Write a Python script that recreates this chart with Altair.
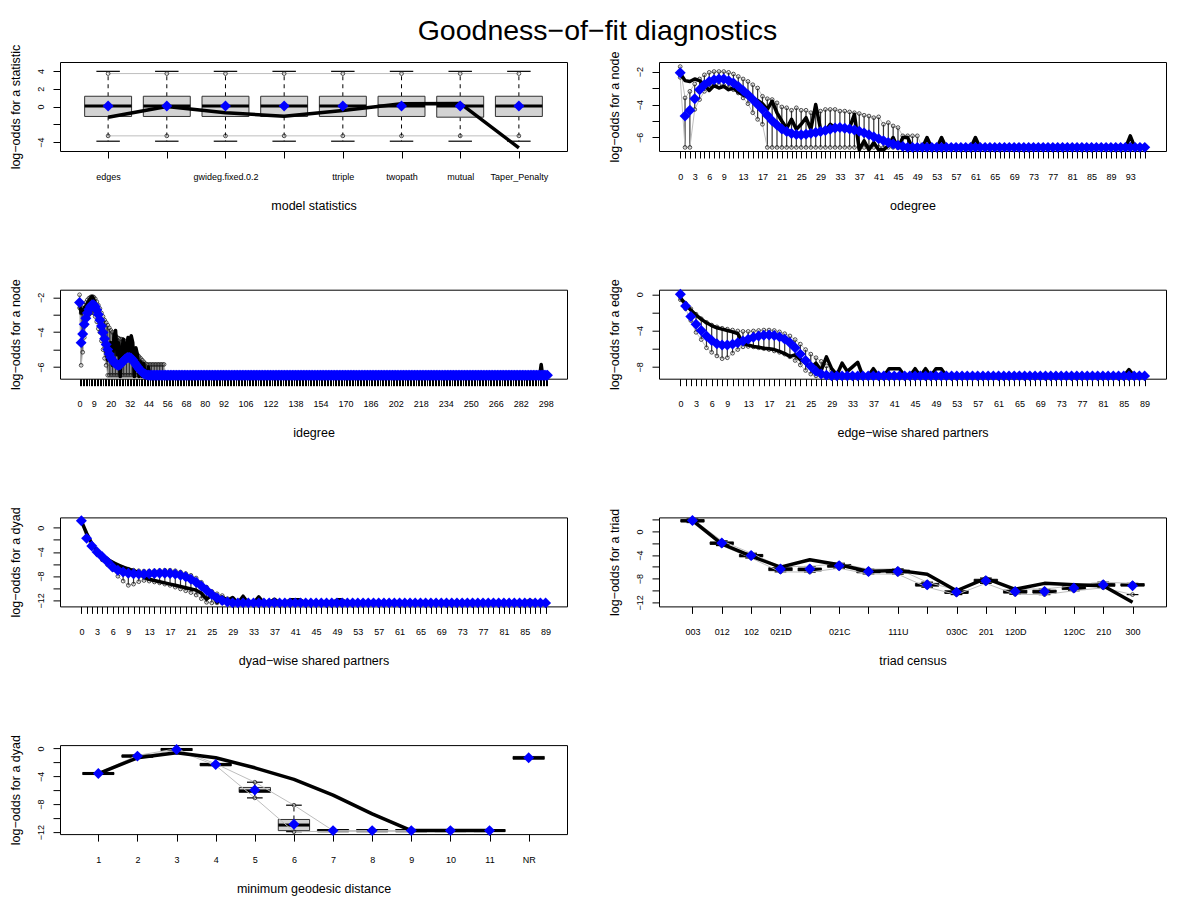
import json
import altair as alt
import pandas as pd

FONT = "Liberation Sans"
TITLE = "Goodness\u2212of\u2212fit diagnostics"

# ---------------- Panel 1: model statistics ----------------
P1_LABELS = ["edges", "", "gwideg.fixed.0.2", "", "ttriple", "twopath", "mutual", "Taper_Penalty"]
P1_Q1 = [-1.12, -1.12, -1.12, -1.12, -1.12, -1.12, -1.2, -1.12]
P1_Q3 = [1.15, 1.15, 1.15, 1.15, 1.15, 1.15, 1.15, 1.15]
P1_MED = [0.05, 0.05, 0.05, 0.05, 0.05, 0.05, 0.05, 0.05]
P1_WLO = [-3.9, -3.9, -3.9, -3.9, -3.9, -3.9, -3.9, -3.9]
P1_WHI = [3.95, 3.95, 3.95, 3.95, 3.95, 3.95, 3.95, 3.95]
P1_LO = [-3.3, -3.3, -3.3, -3.3, -3.3, -3.3, -3.3, -3.3]
P1_HI = [3.7, 3.7, 3.7, 3.7, 3.7, 3.7, 3.7, 3.7]
P1_OBS = [-1.2, 0.0, -0.7, -1.1, -0.45, 0.3, 0.35, -4.65]
P1_BLUE = [0.05, 0.05, 0.05, 0.05, 0.05, 0.05, 0.05, 0.05]

# ---------------- Panel 2: odegree (0..96) ----------------
ODEG_N = 97
ODEG_LABELS = [0, 3, 6, 9, 13, 17, 21, 25, 29, 33, 37, 41, 45, 49, 53, 57, 61, 65, 69, 73, 77, 81, 85, 89, 93]
ODEG_FLOOR = -6.6
ODEG_BLUE = [-2.07, -4.7, -4.35, -3.65, -3.1, -2.8, -2.6, -2.5, -2.45, -2.45,
             -2.55, -2.7, -2.9, -3.15, -3.4, -3.7, -4.0, -4.3, -4.65, -4.98,
             -5.25, -5.48, -5.64, -5.76, -5.82, -5.84, -5.8, -5.75, -5.7, -5.64,
             -5.57, -5.5, -5.43, -5.4, -5.44, -5.48, -5.54, -5.62, -5.72, -5.83,
             -5.95, -6.07, -6.19, -6.3, -6.4, -6.48, -6.55]
ODEG_OBS_HEAD = [-2.1, -2.55, -2.6, -2.45, -2.55, -2.8, -3.15, -2.85, -3.0, -2.9,
                 -3.1, -3.0, -3.25, -3.4, -3.55, -3.7, -3.75, -3.95, -4.3, -3.8,
                 -4.5, -5.0, -5.45, -4.9, -5.5, -5.2, -4.8, -5.5, -4.0, -5.5,
                 -5.6, -5.2, -5.4, -5.3, -5.6, -5.4, -4.6, -6.75, -6.2, -6.75,
                 -6.3, -6.75, -6.75, -6.5, -6.0, -6.65, -6.0, -6.0, -6.65, -6.65,
                 -6.65, -6.0, -6.65, -6.65, -6.0, -6.65, -6.65, -6.65, -6.65, -6.65,
                 -6.65, -6.0]
ODEG_OBS_SPIKE = {93: -5.9}
ODEG_OBS_FLOOR = -6.65
ODEG_HI = [-1.7, -3.6, -3.2, -2.75, -2.45, -2.2, -2.05, -2.0, -2.0, -2.0,
           -2.05, -2.15, -2.3, -2.45, -2.6, -2.8, -3.0, -3.5, -3.65, -3.7,
           -3.9, -4.15, -4.2, -4.35, -4.2, -4.35, -4.35, -4.5, -4.45, -4.4,
           -4.3, -4.3, -4.3, -4.4, -4.4, -4.45, -4.5, -4.55, -4.65, -4.7,
           -4.8, -4.75, -5.2, -5.1, -5.3, -5.4, -5.9, -5.9, -5.9, -5.9]
ODEG_LO = [-2.35, -6.6, -6.6, -4.3, -3.7, -3.2, -2.95, -2.85, -2.8, -2.85,
           -2.95, -3.1, -3.3, -3.6, -3.95, -4.5, -4.9, -5.2]

# ---------------- Panel 3: idegree (0..299) ----------------
IDEG_N = 300
IDEG_LABELS = [0, 9, 20, 32, 44, 56, 68, 80, 92, 106, 122, 138, 154, 170, 186, 202, 218, 234, 250, 266, 282, 298]
IDEG_FLOOR = -6.47
IDEG_BLUE = [-2.3, -4.6, -4.1, -3.55, -3.2, -2.9, -2.68, -2.52, -2.42, -2.42,
             -2.52, -2.72, -2.98, -3.3, -3.65, -4.02, -4.38, -4.7, -5.0, -5.25,
             -5.45, -5.6, -5.72, -5.82, -5.88, -5.9, -5.85, -5.75, -5.65, -5.55,
             -5.48, -5.45, -5.45, -5.5, -5.6, -5.72, -5.85, -5.98, -6.1, -6.2,
             -6.3, -6.37, -6.42, -6.45]
IDEG_OBS_HEAD = [-2.4, -2.9, -2.75, -2.6, -2.5, -2.35, -2.2, -2.05, -1.95, -2.1,
                 -2.3, -2.6, -2.8, -3.1, -3.5, -3.9, -4.4, -5.0, -5.6, -4.9,
                 -4.6, -5.9, -4.3, -3.9, -5.3, -4.6, -6.55, -5.0, -4.4, -5.6,
                 -4.8, -4.3, -5.2, -4.2, -4.6, -6.55, -4.9, -5.3, -6.55, -5.7,
                 -6.55, -5.8, -6.55, -6.55, -6.0, -6.55]
IDEG_OBS_SPIKE = {295: -5.85}
IDEG_OBS_FLOOR = -6.55
IDEG_HI = [-1.85, -2.9, -2.65, -2.45, -2.3, -2.15, -2.05, -1.98, -1.95, -1.98,
           -2.08, -2.25, -2.45, -2.65, -2.9, -3.1, -3.3, -3.45, -3.6, -3.75,
           -3.9, -4.0, -4.1, -4.2, -4.3, -4.35, -4.4, -4.4, -4.45, -4.5,
           -4.6, -4.7, -4.8, -4.9, -5.0, -5.1, -5.2, -5.3, -5.4, -5.5,
           -5.6, -5.7, -5.8, -5.85, -5.85, -5.85, -5.85, -5.85, -5.85, -5.85,
           -5.85, -5.85, -5.85, -5.85, -5.85]
IDEG_LO = [-2.6, -5.9, -5.15, -4.3, -3.6, -3.2, -3.0, -2.9, -2.85, -2.9,
           -3.1, -3.4, -3.8, -4.0, -4.5, -5.0, -5.5, -5.9]

# ---------------- Panel 4: edge-wise shared partners (0..89) ----------------
ESP_N = 90
SP_LABELS = [0, 3, 6, 9, 13, 17, 21, 25, 29, 33, 37, 41, 45, 49, 53, 57, 61, 65, 69, 73, 77, 81, 85, 89]
ESP_FLOOR = -9.0
ESP_BLUE = [0.0, -1.3, -2.45, -3.3, -4.0, -4.6, -5.1, -5.45, -5.6, -5.6,
            -5.5, -5.35, -5.15, -4.95, -4.75, -4.6, -4.52, -4.5, -4.55, -4.7,
            -4.95, -5.35, -5.9, -6.6, -7.3, -7.95, -8.5, -8.8, -8.93]
ESP_OBS_HEAD = [-0.4, -1.1, -1.75, -2.3, -2.75, -3.15, -3.45, -3.7, -3.85, -4.0,
                -4.15, -4.35, -5.4, -5.6, -5.75, -5.85, -5.95, -6.0, -6.1, -6.3,
                -6.55, -6.85, -6.7, -7.2, -7.6, -8.1, -7.6, -8.4, -6.9, -8.2,
                -8.9, -7.6, -8.5, -8.0, -7.5, -9.05, -9.05, -8.2, -9.05, -9.05,
                -8.2, -8.2, -8.2, -9.05, -9.05, -8.2, -9.05, -8.2, -9.05, -8.2,
                -8.2]
ESP_OBS_SPIKE = {86: -8.3}
ESP_OBS_FLOOR = -9.05
ESP_HI = [-0.3, -1.0, -1.6, -2.2, -2.7, -3.1, -3.4, -3.6, -3.75, -3.85,
          -3.95, -4.05, -4.1, -4.1, -4.05, -4.0, -3.95, -3.95, -4.0, -4.15,
          -4.35, -4.6, -5.0, -5.5, -6.1, -6.6, -7.0, -7.4, -7.9, -8.4, -8.8]
ESP_LO = [-0.6, -1.6, -2.9, -4.2, -5.0, -5.9, -6.4, -6.8, -7.1, -7.0,
          -6.5, -6.1, -5.8, -5.75, -5.8, -5.9, -6.0, -6.1, -6.25, -6.4,
          -6.6, -6.9, -7.3, -7.8, -8.4, -8.8]

# ---------------- Panel 5: dyad-wise shared partners (0..89) ----------------
DSP_N = 90
DSP_FLOOR = -12.4
DSP_BLUE = [1.15, -1.75, -3.0, -4.0, -4.8, -5.6, -6.5, -7.0, -7.3, -7.5,
            -7.6, -7.65, -7.65, -7.6, -7.55, -7.5, -7.5, -7.55, -7.65, -7.85,
            -8.1, -8.5, -9.0, -9.6, -10.3, -11.0, -11.6, -12.0, -12.25]
DSP_OBS_HEAD = [1.1, -0.9, -2.6, -3.8, -4.6, -5.2, -5.7, -6.1, -6.5, -6.8,
                -7.1, -7.4, -8.2, -8.5, -8.7, -8.9, -9.1, -9.3, -9.5, -9.7,
                -9.9, -10.1, -10.3, -10.8, -11.8, -11.1, -12.3, -11.4, -12.0, -11.5,
                -12.45, -11.3, -12.45, -12.45, -11.4, -12.45, -12.45, -11.8, -12.45, -12.45,
                -11.9, -11.9, -11.9, -12.45, -12.45, -12.45, -12.45, -12.45, -12.45, -11.9,
                -11.9]
DSP_OBS_SPIKE = {86: -11.9}
DSP_OBS_FLOOR = -12.45
DSP_HI = [1.0, -1.4, -2.7, -3.8, -4.6, -5.2, -5.8, -6.3, -6.6, -6.85,
          -7.0, -7.1, -7.15, -7.15, -7.1, -7.05, -7.0, -7.0, -7.1, -7.3,
          -7.55, -7.85, -8.3, -9.0, -9.8, -10.5, -10.9, -11.2, -11.7, -12.2]
DSP_LO = [1.0, -2.0, -3.3, -4.4, -5.3, -6.1, -6.9, -8.0, -8.8, -9.5,
          -9.3, -8.9, -8.7, -8.8, -8.95, -9.1, -9.3, -9.5, -9.8, -10.1,
          -10.4, -10.7, -11.1, -11.7, -12.3]

# ---------------- Panel 6: triad census ----------------
TRI_LABELS = ["003", "012", "102", "021D", "", "021C", "", "111U", "", "030C", "201", "120D", "", "120C", "210", "300"]
TRI_BLUE = [1.86, -1.98, -4.07, -6.38, -6.38, -5.82, -6.78, -6.78, -9.04, -10.28, -8.36, -10.17, -10.17, -9.6, -9.04, -9.2]
TRI_OBS = [1.86, -2.1, -4.2, -6.05, -4.8, -5.65, -6.8, -6.6, -7.25, -10.05, -7.95, -9.8, -8.8, -9.05, -9.2, -12.0]
TRI_MED = [1.8, -2.0, -4.1, -6.4, -6.45, -5.85, -6.8, -6.8, -9.05, -10.3, -8.35, -10.2, -10.2, -9.6, -9.05, -9.05]
TRI_Q1 = [1.6, -2.2, -4.3, -6.65, -6.7, -6.05, -7.0, -7.05, -9.25, -10.5, -8.6, -10.45, -10.45, -9.85, -9.3, -9.25]
TRI_Q3 = [2.0, -1.8, -3.9, -6.15, -6.2, -5.6, -6.55, -6.55, -8.8, -10.05, -8.1, -9.95, -9.95, -9.35, -8.8, -8.85]
TRI_HI = [2.1, -1.6, -3.7, -5.95, -5.95, -5.4, -6.4, -6.35, -8.6, -9.9, -7.9, -9.75, -9.75, -9.2, -8.6, -8.8]
TRI_LO = [1.5, -2.4, -4.5, -6.85, -6.9, -6.25, -7.2, -7.25, -9.45, -10.7, -8.8, -10.65, -10.7, -10.05, -9.55, -10.7]

# ---------------- Panel 7: minimum geodesic distance ----------------
GEO_LABELS = ["1", "2", "3", "4", "5", "6", "7", "8", "9", "10", "11", "NR"]
GEO_BLUE = [-3.59, -1.1, -0.14, -2.3, -5.98, -10.9, -11.8, -11.8, -11.8, -11.8, -11.8, -1.34]
GEO_OBS = [-3.6, -1.34, -0.62, -1.34, -2.78, -4.45, -6.7, -9.4, -11.8, -11.8, -11.8, None]
GEO_MED = [-3.6, -1.1, -0.15, -2.3, -6.1, -11.0, -11.8, -11.8, -11.8, -11.8, -11.8, -1.35]
GEO_Q1 = [-3.75, -1.25, -0.3, -2.5, -6.3, -11.8, -11.95, -11.95, -11.95, -11.95, -11.95, -1.55]
GEO_Q3 = [-3.45, -0.95, 0.0, -2.15, -5.6, -10.2, -11.65, -11.65, -11.65, -11.65, -11.65, -1.15]
GEO_HI = [-3.5, -1.0, -0.05, -2.2, -4.85, -8.15, -11.8, -11.8, -11.8, -11.8, -11.8, None]
GEO_LO = [-3.7, -1.2, -0.25, -2.45, -7.1, -11.95, -11.9, -11.9, -11.9, -11.9, -11.9, None]


def fill(head, n, floor, spikes=None):
    out = list(head) + [floor] * (n - len(head))
    for k, v in (spikes or {}).items():
        out[k] = v
    return out


def shown(vals):
    return f"indexof({json.dumps(vals)}, datum.value) >= 0 ? datum.label : ''"


def named(labels):
    return f"{json.dumps(labels)}[datum.value - 1]"


def make_panel(data, xdom, ydom, xvals, xexpr, yvals, yshow, xtitle, ytitle, kind):
    df = pd.DataFrame(data)
    xs = alt.Scale(domain=xdom, nice=False, zero=False)
    ys = alt.Scale(domain=ydom, nice=False, zero=False)
    xax = alt.Axis(values=xvals, labelExpr=xexpr, title=xtitle, labelOverlap=False,
                   labelFlush=False, labelAngle=0, tickSize=7, labelPadding=14,
                   titlePadding=18, grid=False, domain=False)
    yax = alt.Axis(values=yvals, labelExpr=shown(yshow), title=ytitle, labelOverlap=False,
                   labelFlush=False, labelAngle=270, labelAlign="center", labelBaseline="bottom",
                   tickSize=7, labelPadding=8, titlePadding=14, grid=False, domain=False)

    def X(f):
        return alt.X(f"{f}:Q", scale=xs, axis=xax)

    def Y(f):
        return alt.Y(f"{f}:Q", scale=ys, axis=yax)

    base = alt.Chart(df).transform_calculate(
        xl="datum.x - 0.4", xr="datum.x + 0.4", cl="datum.x - 0.2", cr="datum.x + 0.2")
    layers = []
    if kind == "box":
        layers += [
            base.mark_rule(color="black", strokeWidth=1, strokeDash=[4, 4]).encode(x=X("x"), y=Y("q3"), y2="whi"),
            base.mark_rule(color="black", strokeWidth=1, strokeDash=[4, 4]).encode(x=X("x"), y=Y("q1"), y2="wlo"),
            base.mark_rule(color="black", strokeWidth=1.2).encode(x=X("cl"), x2="cr", y=Y("whi")),
            base.mark_rule(color="black", strokeWidth=1.2).encode(x=X("cl"), x2="cr", y=Y("wlo")),
            base.mark_rect(fill="#D3D3D3", stroke="#333333", strokeWidth=1).encode(
                x=X("xl"), x2="xr", y=Y("q1"), y2="q3"),
            base.mark_rule(color="black", strokeWidth=3).encode(x=X("xl"), x2="xr", y=Y("med")),
        ]
    else:
        layers.append(base.mark_rule(color="#000000", strokeWidth=1.2, opacity=0.8).encode(
            x=X("x"), y=Y("lo"), y2="hi"))
    layers += [
        base.mark_line(color="#BEBEBE", strokeWidth=1).encode(x=X("x"), y=Y("hi")),
        base.mark_line(color="#BEBEBE", strokeWidth=1).encode(x=X("x"), y=Y("lo")),
        base.mark_point(shape="circle", filled=False, color="#222222", size=14, strokeWidth=0.8,
                        opacity=1).encode(x=X("x"), y=Y("hi")),
        base.mark_point(shape="circle", filled=False, color="#222222", size=14, strokeWidth=0.8,
                        opacity=1).encode(x=X("x"), y=Y("lo")),
        base.mark_line(color="black", strokeWidth=3.5, strokeJoin="round").encode(x=X("x"), y=Y("obs")),
        base.mark_point(shape="diamond", filled=True, color="#0000FF", size=120, opacity=1).encode(
            x=X("x"), y=Y("blue")),
    ]
    return alt.layer(*layers).properties(width=507, height=89)


# Panel 1
p1 = make_panel(
    {"x": list(range(1, 9)), "q1": P1_Q1, "q3": P1_Q3, "med": P1_MED, "wlo": P1_WLO, "whi": P1_WHI,
     "lo": P1_LO, "hi": P1_HI, "obs": P1_OBS, "blue": P1_BLUE},
    [0.18, 8.82], [-5.0, 5.0], list(range(1, 9)), named(P1_LABELS),
    [-4, -2, 0, 2, 4], [-4, 0, 2, 4], "model statistics", "log\u2212odds for a statistic", "box")

# Panel 2
p2 = make_panel(
    {"x": list(range(ODEG_N)), "blue": fill(ODEG_BLUE, ODEG_N, ODEG_FLOOR),
     "obs": fill(ODEG_OBS_HEAD, ODEG_N, ODEG_OBS_FLOOR, ODEG_OBS_SPIKE),
     "hi": fill(ODEG_HI, ODEG_N, ODEG_FLOOR), "lo": fill(ODEG_LO, ODEG_N, ODEG_FLOOR)},
    [-4.38, 100.38], [-6.82, -1.42], list(range(ODEG_N)), shown(ODEG_LABELS),
    [-6, -5, -4, -3, -2], [-6, -4, -2], "odegree", "log\u2212odds for a node", "dense")

# Panel 3
p3 = make_panel(
    {"x": list(range(IDEG_N)), "blue": fill(IDEG_BLUE, IDEG_N, IDEG_FLOOR),
     "obs": fill(IDEG_OBS_HEAD, IDEG_N, IDEG_OBS_FLOOR, IDEG_OBS_SPIKE),
     "hi": fill(IDEG_HI, IDEG_N, IDEG_FLOOR), "lo": fill(IDEG_LO, IDEG_N, IDEG_FLOOR)},
    [-12.5, 311.5], [-6.67, -1.56], list(range(IDEG_N)), shown(IDEG_LABELS),
    [-6, -5, -4, -3, -2], [-6, -4, -2], "idegree", "log\u2212odds for a node", "dense")

# Panel 4
p4 = make_panel(
    {"x": list(range(ESP_N)), "blue": fill(ESP_BLUE, ESP_N, ESP_FLOOR),
     "obs": fill(ESP_OBS_HEAD, ESP_N, ESP_OBS_FLOOR, ESP_OBS_SPIKE),
     "hi": fill(ESP_HI, ESP_N, ESP_FLOOR), "lo": fill(ESP_LO, ESP_N, ESP_FLOOR)},
    [-4.1, 93.1], [-9.31, 0.5], list(range(ESP_N)), shown(SP_LABELS),
    [-8, -6, -4, -2, 0], [-8, -4, 0], "edge\u2212wise shared partners", "log\u2212odds for a edge", "dense")

# Panel 5
p5 = make_panel(
    {"x": list(range(DSP_N)), "blue": fill(DSP_BLUE, DSP_N, DSP_FLOOR),
     "obs": fill(DSP_OBS_HEAD, DSP_N, DSP_OBS_FLOOR, DSP_OBS_SPIKE),
     "hi": fill(DSP_HI, DSP_N, DSP_FLOOR), "lo": fill(DSP_LO, DSP_N, DSP_FLOOR)},
    [-4.1, 93.1], [-12.98, 1.71], list(range(DSP_N)), shown(SP_LABELS),
    [-12, -10, -8, -6, -4, -2, 0], [-12, -8, -4, 0], "dyad\u2212wise shared partners",
    "log\u2212odds for a dyad", "dense")

# Panel 6
p6 = make_panel(
    {"x": list(range(1, 17)), "q1": TRI_Q1, "q3": TRI_Q3, "med": TRI_MED, "wlo": TRI_LO, "whi": TRI_HI,
     "lo": TRI_LO, "hi": TRI_HI, "obs": TRI_OBS, "blue": TRI_BLUE},
    [-0.14, 17.14], [-12.7, 2.37], list(range(1, 17)), named(TRI_LABELS),
    [-12, -10, -8, -6, -4, -2, 0, 2], [-12, -8, -4, 0], "triad census", "log\u2212odds for a triad", "box")

# Panel 7
p7 = make_panel(
    {"x": list(range(1, 13)), "q1": GEO_Q1, "q3": GEO_Q3, "med": GEO_MED, "wlo": GEO_LO, "whi": GEO_HI,
     "lo": GEO_LO, "hi": GEO_HI, "obs": GEO_OBS, "blue": GEO_BLUE},
    [0.02, 12.98], [-12.3, 0.48], list(range(1, 13)), named(GEO_LABELS),
    [-12, -10, -8, -6, -4, -2, 0], [-12, -8, -4, 0], "minimum geodesic distance",
    "log\u2212odds for a dyad", "box")

chart = alt.concat(
    p1, p2, p3, p4, p5, p6, p7, columns=2,
    spacing={"row": 138.7, "column": 92}, bounds="flush",
).properties(
    title=alt.TitleParams(text=TITLE, offset=-2, frame="bounds", anchor="middle", dx=10),
    padding={"left": 0, "top": 9, "right": 5, "bottom": 5},
).configure_view(
    stroke="black", strokeWidth=1
).configure_axis(
    labelFont=FONT, titleFont=FONT, labelFontSize=9, titleFontSize=12.5,
    labelColor="black", titleColor="black", tickColor="black", tickWidth=1,
    titleFontWeight="normal",
).configure_title(
    font=FONT, fontSize=28.5, fontWeight="normal", color="black",
)

chart.save("out.html", embed_options={"renderer": "svg", "actions": False})
